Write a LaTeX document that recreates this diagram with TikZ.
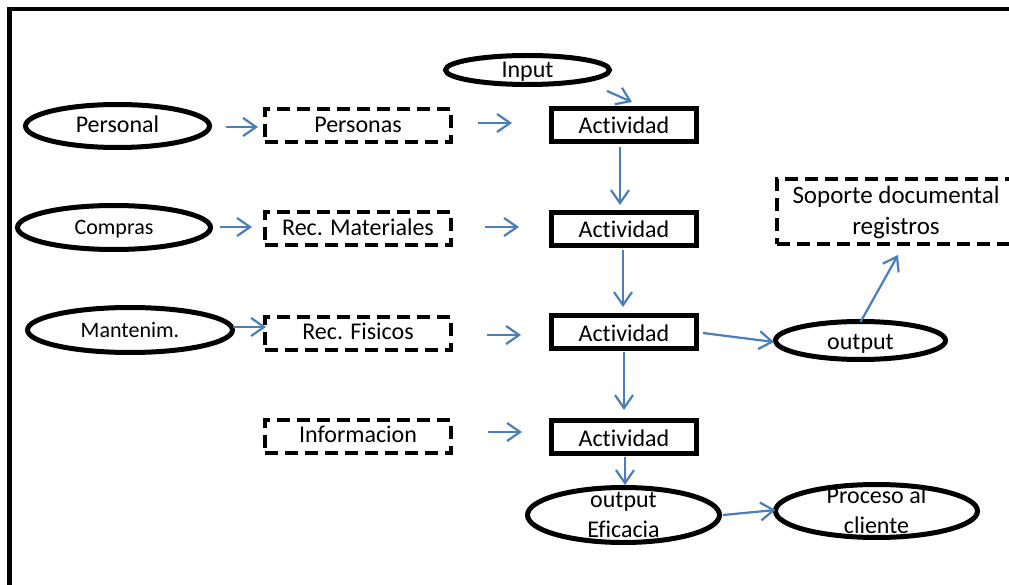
\documentclass[tikz,border=0pt]{standalone}
\usepackage{fontspec}
\setmainfont{Carlito}[Ligatures=NoCommon]
\usetikzlibrary{arrows.meta,shapes.geometric}
\definecolor{flow}{RGB}{74,126,187}

\tikzset{
  big/.style={font=\fontsize{24}{30}\selectfont},
  small/.style={font=\fontsize{22}{28}\selectfont},
  actbox/.style={big, draw, rectangle, line width=5pt, minimum width=145pt,
    minimum height=33pt, inner sep=0pt, outer sep=0pt, text height=22pt, text depth=4pt},
  resbox/.style={big, draw, rectangle, line width=4pt, dash pattern=on 13pt off 7pt,
    minimum width=186pt, minimum height=33pt, inner sep=0pt, outer sep=0pt,
    text height=18pt, text depth=5pt},
  oval/.style={draw, ellipse, line width=5pt, inner sep=0pt, outer sep=0pt},
  lbl/.style={big, anchor=base, inner sep=0pt},
  arr/.style={draw=flow, line width=2.2pt, -{Straight Barb[length=13pt,width=18pt]}},
}

\begin{document}
\begin{tikzpicture}[x=1pt,y=-1pt]
\useasboundingbox (0,0) rectangle (1009,585);
\clip (0,0) rectangle (1009,585);

% outer frame
\draw[line width=4.4pt] (9.5,600) -- (9.5,9) -- (1020,9);

% activity chain
\node[actbox] (act1) at (624,125) {Actividad};
\node[actbox] (act2) at (624,229) {Actividad};
\node[actbox] (act3) at (624,332) {Actividad};
\node[actbox] (act4) at (624,437) {Actividad};

% resources
\node[resbox] (personas) at (358,126) {Personas};
\node[resbox] (recmat)   at (358,229) {Rec. Materiales};
\node[resbox] (recfis)   at (358,333) {Rec. Fisicos};
\node[resbox] (info)     at (358,436) {Informacion};
\node[resbox, font=\fontsize{25}{31}\selectfont, minimum width=238pt, minimum height=65pt,
  text height=55pt, text depth=8pt]
  (soporte) at (896,211.5) {\begin{tabular}[b]{@{}c@{}}Soporte documental\\registros\end{tabular}};

% providers and outputs
\node[oval, minimum width=164pt, minimum height=29pt] (input)    at (527.5,70) {};
\node[oval, minimum width=184pt, minimum height=43pt] (personal) at (117.5,126) {};
\node[oval, minimum width=193pt, minimum height=44pt] (compras)  at (114,227.5) {};
\node[oval, minimum width=205pt, minimum height=45pt] (mantenim) at (130,330) {};
\node[oval, minimum width=170pt, minimum height=38pt] (output)   at (860.5,340.5) {};
\node[oval, minimum width=192pt, minimum height=55pt] (eficacia) at (623.5,515) {};
\node[oval, minimum width=202pt, minimum height=53pt] (proceso)  at (876.5,511) {};

\node[lbl] at ([yshift=-8pt]input.center) {Input};
\node[lbl] at ([yshift=-7pt]personal.center) {Personal};
\node[lbl, small] at ([yshift=-7.5pt]compras.center) {Compras};
\node[lbl, small] at ([yshift=-7pt]mantenim.center) {Mantenim.};
\node[lbl] at ([yshift=-8.5pt]output.center) {output};
\node[lbl] at ([yshift=-22pt]eficacia.center) {\begin{tabular}[b]{@{}c@{}}output\\Eficacia\end{tabular}};
\node[lbl] at ([yshift=-22pt]proceso.center) {\begin{tabular}[b]{@{}c@{}}Proceso al\\cliente\end{tabular}};

% connectors
\draw[arr] ([xshift=79.5pt,yshift=-6.5pt]input.south) -- ([xshift=8pt,yshift=6.5pt]act1.north);
\draw[arr] ([xshift=16.5pt,yshift=-1pt]personal.east) -- ([xshift=-7pt,yshift=-1pt]personas.west);
\draw[arr] ([xshift=27pt,yshift=3pt]personas.east) -- ([xshift=-39.5pt,yshift=2pt]act1.west);
\draw[arr] ([xshift=-4pt,yshift=-5.5pt]act1.south) -- ([xshift=-4pt,yshift=7.5pt]act2.north);
\draw[arr] ([xshift=9.5pt,yshift=0.5pt]compras.east) -- ([xshift=-13pt,yshift=2pt]recmat.west);
\draw[arr] ([xshift=34pt,yshift=2pt]recmat.east) -- ([xshift=-32.5pt,yshift=2pt]act2.west);
\draw[arr] ([xshift=-1pt,yshift=-4.5pt]act2.south) -- ([xshift=-1pt,yshift=8.5pt]act3.north);
\draw[arr] ([xshift=0.5pt,yshift=3pt]mantenim.east) -- ([xshift=1pt,yshift=6pt]recfis.west);
\draw[arr] ([xshift=36pt,yshift=-2pt]recfis.east) -- ([xshift=-30.5pt,yshift=-3pt]act3.west);
\draw[arr] ([xshift=6.5pt,yshift=-1pt]act3.east) -- ([xshift=-1.5pt,yshift=-1.5pt]output.west);
\draw[arr] ([yshift=-0.5pt]output.north) -- ([xshift=2pt,yshift=-11pt]soporte.south);
\draw[arr] ([yshift=-3.5pt]act3.south) -- ([yshift=10.5pt]act4.north);
\draw[arr] ([xshift=37pt,yshift=4pt]info.east) -- ([xshift=-29.5pt,yshift=5pt]act4.west);
\draw[arr] ([xshift=1pt,yshift=-3.5pt]act4.south) -- ([xshift=1.5pt,yshift=2.5pt]eficacia.north);
\draw[arr] ([xshift=3.5pt]eficacia.east) -- ([yshift=1pt]proceso.west);
\end{tikzpicture}
\end{document}
